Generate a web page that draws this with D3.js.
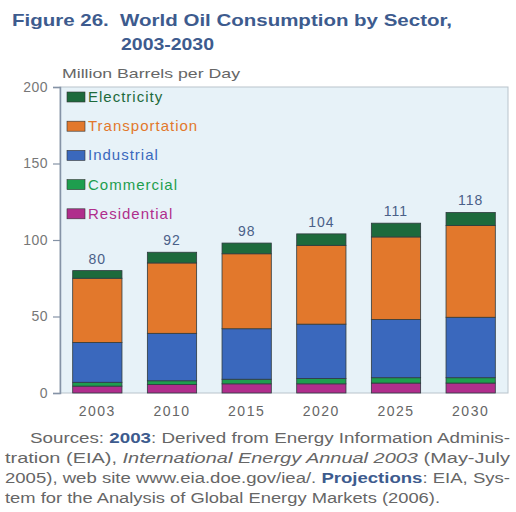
<!DOCTYPE html>
<html><head><meta charset="utf-8">
<script src="https://cdn.jsdelivr.net/npm/d3@7"></script>
<style>body{margin:0;background:#fff}svg{display:block}text{white-space:pre}</style>
</head><body>
<svg id="c" width="516" height="512"></svg>
<script>
const years = ["2003","2010","2015","2020","2025","2030"];
const residential = [4.5, 5.5, 6, 6, 6.5, 6.5];
const commercial = [2.5, 2.5, 3, 3.5, 3.5, 3.5];
const industrial = [26, 31, 33, 35.5, 38, 39.5];
const transportation = [42, 46, 49, 51.5, 54, 60];
const electricity = [5, 7, 7, 7.5, 9, 8.5];
const totals = [80, 92, 98, 104, 111, 118];
const yTicks = [0, 50, 100, 150, 200];
const seriesNames = ["Residential","Commercial","Industrial","Transportation","Electricity"];
const seriesColors = {Residential:"#b02e8c",Commercial:"#1e9e4e",Industrial:"#3a68bd",Transportation:"#e2782c",Electricity:"#1d6a3c"};
const legendOrder = ["Electricity","Transportation","Industrial","Commercial","Residential"];

const svg = d3.select("#c");
const ff = "Liberation Sans, Arial, sans-serif";
const m = {l:60, r:508, t:87, b:393};
const x = d3.scaleBand().domain(years).range([m.l, m.r]).paddingInner(0.34).paddingOuter(0.17);
const y = d3.scaleLinear().domain([0,200]).range([m.b, m.t]);

// Title
const titleColor = "#3d5b8e";
svg.append("text").attr("x",12).attr("y",26).attr("fill",titleColor)
  .attr("font-family",ff).attr("font-weight","bold").attr("font-size",17)
  .attr("textLength",440).attr("lengthAdjust","spacingAndGlyphs")
  .text("Figure 26.  World Oil Consumption by Sector,");
svg.append("text").attr("x",121).attr("y",50).attr("fill",titleColor)
  .attr("font-family",ff).attr("font-weight","bold").attr("font-size",17)
  .attr("textLength",93).attr("lengthAdjust","spacingAndGlyphs")
  .text("2003-2030");
svg.append("text").attr("x",62).attr("y",78).attr("fill","#666")
  .attr("font-family",ff).attr("font-size",13.5)
  .attr("textLength",178).attr("lengthAdjust","spacingAndGlyphs")
  .text("Million Barrels per Day");

// plot frame
svg.append("rect").attr("x",m.l).attr("y",m.t).attr("width",m.r-m.l).attr("height",m.b-m.t)
  .attr("fill","#e7f2f8").attr("stroke","#b9c4cc").attr("stroke-width",1);

// stacked bars
const rows = years.map((yr,i)=>({year:yr, Residential:residential[i], Commercial:commercial[i], Industrial:industrial[i], Transportation:transportation[i], Electricity:electricity[i]}));
const stack = d3.stack().keys(seriesNames)(rows);
svg.append("g").selectAll("g").data(stack).join("g").attr("fill",d=>seriesColors[d.key])
  .selectAll("rect").data(d=>d).join("rect")
  .attr("x",d=>x(d.data.year)).attr("width",x.bandwidth())
  .attr("y",d=>y(d[1])).attr("height",d=>y(d[0])-y(d[1]))
  .attr("stroke","#2f3b3f").attr("stroke-width",0.8);

// y axis
const yAxis = d3.axisLeft(y).tickValues(yTicks).tickSize(7).tickPadding(5);
const ga = svg.append("g").attr("transform",`translate(${m.l},0)`).call(yAxis);
ga.select(".domain").attr("stroke","#8593a6").attr("stroke-width",1.5);
ga.selectAll(".tick line").attr("stroke","#8593a6").attr("stroke-width",1.2);
ga.selectAll(".tick text").attr("fill","#777").attr("font-size",14).attr("font-family",ff).attr("letter-spacing",0.5);

// x axis labels
const xAxis = d3.axisBottom(x).tickSize(0).tickPadding(13);
const gx = svg.append("g").attr("transform",`translate(0,${m.b})`).call(xAxis);
gx.select(".domain").remove();
gx.selectAll(".tick text").attr("fill","#666").attr("font-size",14).attr("font-family",ff).attr("letter-spacing",1.5);

// totals
svg.append("g").selectAll("text").data(years).join("text")
  .attr("x",d=>x(d)+x.bandwidth()/2).attr("y",(d,i)=>y(totals[i])-7)
  .attr("text-anchor","middle").attr("fill","#4a6088").attr("font-size",14).attr("letter-spacing",1)
  .attr("font-family",ff).text((d,i)=>totals[i]);

// legend
const lg = svg.append("g");
legendOrder.forEach((k,i)=>{
  const cy = 97 + i*29.2;
  lg.append("rect").attr("x",67).attr("y",cy-5).attr("width",18).attr("height",10)
    .attr("fill",seriesColors[k]).attr("stroke","#333").attr("stroke-width",0.6);
  lg.append("text").attr("x",88).attr("y",cy+5).attr("fill",seriesColors[k])
    .attr("font-family",ff).attr("font-size",15).attr("letter-spacing",1).text(k);
});

// sources
const lines = [
  {x:30, y:443, w:480, parts:[["Sources: ",""],["2003","b"],[": Derived from Energy Information Adminis-",""]]},
  {x:5, y:463, w:505, parts:[["tration (EIA), ",""],["International Energy Annual 2003","i"],[" (May-July",""]]},
  {x:5, y:483, w:505, parts:[["2005), web site www.eia.doe.gov/iea/. ",""],["Projections","b"],[": EIA, Sys-",""]]},
  {x:5, y:503, w:435, parts:[["tem for the Analysis of Global Energy Markets (2006).",""]]}
];
lines.forEach(L=>{
  const t = svg.append("text").attr("x",L.x).attr("y",L.y).attr("font-family",ff).attr("font-size",14).attr("fill","#666")
    .attr("textLength",L.w).attr("lengthAdjust","spacingAndGlyphs");
  L.parts.forEach(p=>{
    const s = t.append("tspan").text(p[0]);
    if (p[1]==="b") s.attr("font-weight","bold").attr("fill","#3d5b8e");
    if (p[1]==="i") s.attr("font-style","italic");
  });
});
</script>
</body></html>
